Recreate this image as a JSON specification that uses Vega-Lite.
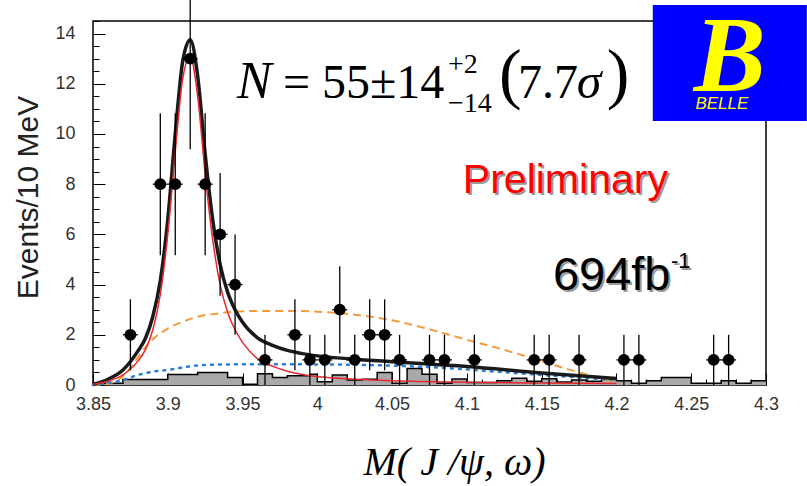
{
  "$schema": "https://vega.github.io/schema/vega-lite/v6.json",
  "width": 673,
  "height": 364,
  "autosize": {"type": "none"},
  "padding": {"left": 93, "top": 21, "right": 41, "bottom": 101},
  "background": "white",
  "config": {
    "view": {"stroke": "black", "strokeWidth": 1.5},
    "axis": {"labelFont": "Liberation Sans", "titleFont": "Liberation Sans", "domain": false, "grid": false}
  },
  "resolve": {"axis": {"x": "independent", "y": "independent"}},
  "datasets": {
    "hist": [
      {"m": 3.85, "v": 0.07}, {"m": 3.87, "v": 0.22}, {"m": 3.9, "v": 0.42}, {"m": 3.92, "v": 0.5},
      {"m": 3.94, "v": 0.3}, {"m": 3.95, "v": 0.03}, {"m": 3.96, "v": 0.45}, {"m": 3.97, "v": 0.3},
      {"m": 3.98, "v": 0.37}, {"m": 3.995, "v": 0.43}, {"m": 4.0, "v": 0.13}, {"m": 4.01, "v": 0.4},
      {"m": 4.02, "v": 0.2}, {"m": 4.03, "v": 0.23}, {"m": 4.04, "v": 0.5}, {"m": 4.05, "v": 0.07},
      {"m": 4.06, "v": 0.66}, {"m": 4.07, "v": 0.43}, {"m": 4.08, "v": 0.07}, {"m": 4.09, "v": 0.24},
      {"m": 4.1, "v": 0.1}, {"m": 4.12, "v": 0.17}, {"m": 4.13, "v": 0.27}, {"m": 4.14, "v": 0.15},
      {"m": 4.15, "v": 0.25}, {"m": 4.16, "v": 0.12}, {"m": 4.17, "v": 0.2}, {"m": 4.18, "v": 0.15},
      {"m": 4.19, "v": 0.25}, {"m": 4.2, "v": 0.17}, {"m": 4.21, "v": 0.07}, {"m": 4.22, "v": 0.17},
      {"m": 4.23, "v": 0.3}, {"m": 4.25, "v": 0.07}, {"m": 4.27, "v": 0.17}, {"m": 4.28, "v": 0.07},
      {"m": 4.29, "v": 0.17}, {"m": 4.3, "v": 0.17}
    ],
    "orange": [
      {"m": 3.85, "v": 0.0}, {"m": 3.86, "v": 0.05}, {"m": 3.865, "v": 0.15}, {"m": 3.87, "v": 0.35},
      {"m": 3.875, "v": 0.7}, {"m": 3.88, "v": 1.1}, {"m": 3.885, "v": 1.5}, {"m": 3.89, "v": 1.82},
      {"m": 3.9, "v": 2.25}, {"m": 3.91, "v": 2.52}, {"m": 3.92, "v": 2.72}, {"m": 3.935, "v": 2.86},
      {"m": 3.96, "v": 2.95}, {"m": 3.98, "v": 2.95}, {"m": 4.0, "v": 2.92}, {"m": 4.025, "v": 2.8},
      {"m": 4.05, "v": 2.58}, {"m": 4.075, "v": 2.22}, {"m": 4.1, "v": 1.8}, {"m": 4.125, "v": 1.4},
      {"m": 4.15, "v": 0.95}, {"m": 4.175, "v": 0.5}, {"m": 4.2, "v": 0.1}
    ],
    "blue": [
      {"m": 3.85, "v": 0.0}, {"m": 3.86, "v": 0.08}, {"m": 3.87, "v": 0.2}, {"m": 3.88, "v": 0.4},
      {"m": 3.89, "v": 0.53}, {"m": 3.9, "v": 0.6}, {"m": 3.91, "v": 0.7}, {"m": 3.92, "v": 0.78},
      {"m": 3.94, "v": 0.82}, {"m": 3.96, "v": 0.83}, {"m": 3.98, "v": 0.83}, {"m": 4.0, "v": 0.82},
      {"m": 4.03, "v": 0.8}, {"m": 4.06, "v": 0.75}, {"m": 4.09, "v": 0.66}, {"m": 4.12, "v": 0.53},
      {"m": 4.15, "v": 0.4}, {"m": 4.18, "v": 0.28}, {"m": 4.2, "v": 0.2}
    ],
    "total": [
      {"m": 3.85, "v": 0.03}, {"m": 3.86, "v": 0.23}, {"m": 3.87, "v": 0.6}, {"m": 3.88, "v": 1.35},
      {"m": 3.885, "v": 1.85}, {"m": 3.89, "v": 2.73}, {"m": 3.895, "v": 4.15}, {"m": 3.9, "v": 6.6},
      {"m": 3.905, "v": 10.0}, {"m": 3.91, "v": 12.9}, {"m": 3.915, "v": 13.75}, {"m": 3.92, "v": 12.3},
      {"m": 3.925, "v": 9.2}, {"m": 3.93, "v": 6.6}, {"m": 3.935, "v": 4.8}, {"m": 3.94, "v": 3.7},
      {"m": 3.945, "v": 3.0}, {"m": 3.95, "v": 2.5}, {"m": 3.96, "v": 1.88}, {"m": 3.97, "v": 1.58},
      {"m": 3.98, "v": 1.38}, {"m": 3.99, "v": 1.25}, {"m": 4.0, "v": 1.16}, {"m": 4.02, "v": 1.05},
      {"m": 4.05, "v": 0.93}, {"m": 4.1, "v": 0.74}, {"m": 4.15, "v": 0.48}, {"m": 4.2, "v": 0.26}
    ],
    "signal": [
      {"m": 3.85, "v": 0.03}, {"m": 3.86, "v": 0.15}, {"m": 3.87, "v": 0.4}, {"m": 3.88, "v": 0.95},
      {"m": 3.885, "v": 1.4}, {"m": 3.89, "v": 2.2}, {"m": 3.895, "v": 3.6}, {"m": 3.9, "v": 6.0},
      {"m": 3.905, "v": 9.3}, {"m": 3.91, "v": 12.2}, {"m": 3.915, "v": 13.1}, {"m": 3.92, "v": 11.5},
      {"m": 3.925, "v": 8.4}, {"m": 3.93, "v": 5.8}, {"m": 3.935, "v": 4.0}, {"m": 3.94, "v": 2.9},
      {"m": 3.945, "v": 2.2}, {"m": 3.95, "v": 1.7}, {"m": 3.96, "v": 1.05}, {"m": 3.97, "v": 0.75},
      {"m": 3.98, "v": 0.55}, {"m": 3.99, "v": 0.42}, {"m": 4.0, "v": 0.34}, {"m": 4.02, "v": 0.25},
      {"m": 4.05, "v": 0.17}, {"m": 4.1, "v": 0.11}, {"m": 4.15, "v": 0.08}, {"m": 4.2, "v": 0.06}
    ],
    "points": [
      {"m": 3.875, "v": 2, "lo": 0.586, "hi": 3.414},
      {"m": 3.895, "v": 8, "lo": 5.172, "hi": 10.828},
      {"m": 3.905, "v": 8, "lo": 5.172, "hi": 10.828},
      {"m": 3.915, "v": 13, "lo": 9.394, "hi": 16.606},
      {"m": 3.925, "v": 8, "lo": 5.172, "hi": 10.828},
      {"m": 3.935, "v": 6, "lo": 3.551, "hi": 8.449},
      {"m": 3.945, "v": 4, "lo": 2.0, "hi": 6.0},
      {"m": 3.965, "v": 1, "lo": 0, "hi": 2},
      {"m": 3.985, "v": 2, "lo": 0.586, "hi": 3.414},
      {"m": 3.995, "v": 1, "lo": 0, "hi": 2},
      {"m": 4.005, "v": 1, "lo": 0, "hi": 2},
      {"m": 4.015, "v": 3, "lo": 1.268, "hi": 4.732},
      {"m": 4.025, "v": 1, "lo": 0, "hi": 2},
      {"m": 4.035, "v": 2, "lo": 0.586, "hi": 3.414},
      {"m": 4.045, "v": 2, "lo": 0.586, "hi": 3.414},
      {"m": 4.055, "v": 1, "lo": 0, "hi": 2},
      {"m": 4.075, "v": 1, "lo": 0, "hi": 2},
      {"m": 4.085, "v": 1, "lo": 0, "hi": 2},
      {"m": 4.105, "v": 1, "lo": 0, "hi": 2},
      {"m": 4.145, "v": 1, "lo": 0, "hi": 2},
      {"m": 4.155, "v": 1, "lo": 0, "hi": 2},
      {"m": 4.175, "v": 1, "lo": 0, "hi": 2},
      {"m": 4.205, "v": 1, "lo": 0, "hi": 2},
      {"m": 4.215, "v": 1, "lo": 0, "hi": 2},
      {"m": 4.265, "v": 1, "lo": 0, "hi": 2},
      {"m": 4.275, "v": 1, "lo": 0, "hi": 2}
    ]
  },
  "layer": [
    {
      "data": {"name": "hist"},
      "mark": {"type": "area", "interpolate": "step-after", "color": "#a9a9a9"},
      "encoding": {
        "x": {"field": "m", "type": "quantitative",
          "scale": {"domain": [3.85, 4.3], "nice": false, "zero": false},
          "axis": {
            "orient": "bottom", "offset": -12, "tickSize": 12, "tickColor": "black", "tickWidth": 1,
            "values": [3.85, 3.9, 3.95, 4.0, 4.05, 4.1, 4.15, 4.2, 4.25, 4.3],
            "labelExpr": "format(datum.value,'~g')",
            "labelFontSize": 18, "labelColor": "#333", "labelPadding": 10, "labelFlush": false,
            "title": "M( J /ψ, ω)",
            "titleFont": "Liberation Serif", "titleFontStyle": "italic", "titleFontWeight": "normal",
            "titleFontSize": 40, "titleColor": "black",
            "titleX": 361, "titleY": 101, "titleAlign": "center", "titleBaseline": "alphabetic", "titleAngle": 0
          }
        },
        "y": {"field": "v", "type": "quantitative",
          "scale": {"domain": [0, 14.5], "nice": false},
          "axis": {
            "orient": "left", "offset": -12, "tickSize": 12, "tickColor": "black", "tickWidth": 1,
            "values": [0, 2, 4, 6, 8, 10, 12, 14],
            "labelFontSize": 18, "labelColor": "#333", "labelPadding": 18,
            "title": "Events/10 MeV",
            "titleFontSize": 30, "titleFontWeight": "normal", "titleColor": "#222",
            "titleX": -68, "titleY": 176, "titleAlign": "center", "titleBaseline": "alphabetic", "titleAngle": -90
          }
        }
      }
    },
    {
      "data": {"name": "hist"},
      "mark": {"type": "line", "interpolate": "step-after", "color": "black", "strokeWidth": 1.5},
      "encoding": {
        "x": {"field": "m", "type": "quantitative",
          "axis": {
            "orient": "bottom", "offset": -6, "tickSize": 6, "tickColor": "black", "tickWidth": 1,
            "values": [3.86,3.87,3.88,3.89,3.91,3.92,3.93,3.94,3.96,3.97,3.98,3.99,4.01,4.02,4.03,4.04,4.06,4.07,4.08,4.09,4.11,4.12,4.13,4.14,4.16,4.17,4.18,4.19,4.21,4.22,4.23,4.24,4.26,4.27,4.28,4.29],
            "labels": false, "title": null
          }
        },
        "y": {"field": "v", "type": "quantitative",
          "axis": {
            "orient": "left", "offset": -6, "tickSize": 6, "tickColor": "black", "tickWidth": 1,
            "values": [0.5,1,1.5,2.5,3,3.5,4.5,5,5.5,6.5,7,7.5,8.5,9,9.5,10.5,11,11.5,12.5,13,13.5,14.5],
            "labels": false, "title": null
          }
        }
      }
    },
    {
      "data": {"name": "orange"},
      "mark": {"type": "line", "interpolate": "monotone", "color": "#f39a3c", "strokeWidth": 2, "strokeDash": [8, 5]},
      "encoding": {"x": {"field": "m", "type": "quantitative", "axis": null}, "y": {"field": "v", "type": "quantitative", "axis": null}}
    },
    {
      "data": {"name": "blue"},
      "mark": {"type": "line", "interpolate": "monotone", "color": "#2a7fd0", "strokeWidth": 2.5, "strokeDash": [2, 6], "strokeCap": "round"},
      "encoding": {"x": {"field": "m", "type": "quantitative", "axis": null}, "y": {"field": "v", "type": "quantitative", "axis": null}}
    },
    {
      "data": {"name": "total"},
      "mark": {"type": "line", "interpolate": "monotone", "color": "#1a1a1a", "strokeWidth": 3.5},
      "encoding": {"x": {"field": "m", "type": "quantitative", "axis": null}, "y": {"field": "v", "type": "quantitative", "axis": null}}
    },
    {
      "data": {"name": "signal"},
      "mark": {"type": "line", "interpolate": "monotone", "color": "#e8262b", "strokeWidth": 1.5},
      "encoding": {"x": {"field": "m", "type": "quantitative", "axis": null}, "y": {"field": "v", "type": "quantitative", "axis": null}}
    },
    {
      "data": {"name": "points"},
      "mark": {"type": "rule", "color": "black", "strokeWidth": 1.3},
      "encoding": {
        "x": {"field": "m", "type": "quantitative", "axis": null},
        "y": {"field": "lo", "type": "quantitative", "axis": null},
        "y2": {"field": "hi"}
      }
    },
    {
      "data": {"name": "points"},
      "mark": {"type": "rule", "color": "black", "strokeWidth": 1.3, "xOffset": -7.5, "x2Offset": 7.5},
      "encoding": {
        "x": {"field": "m", "type": "quantitative", "axis": null},
        "x2": {"field": "m"},
        "y": {"field": "v", "type": "quantitative", "axis": null}
      }
    },
    {
      "data": {"name": "points"},
      "mark": {"type": "circle", "color": "black", "opacity": 1, "size": 140},
      "encoding": {"x": {"field": "m", "type": "quantitative", "axis": null}, "y": {"field": "v", "type": "quantitative", "axis": null}}
    },
    {
      "data": {"values": [{}]},
      "mark": {"type": "text", "text": "N", "font": "Liberation Serif", "fontStyle": "italic", "fontSize": 52, "align": "left", "baseline": "alphabetic", "color": "black"},
      "encoding": {"x": {"datum": 3.9463, "type": "quantitative", "axis": null}, "y": {"datum": 11.43, "type": "quantitative", "axis": null}}
    },
    {
      "data": {"values": [{}]},
      "mark": {"type": "text", "text": "= 55±14", "font": "Liberation Serif", "fontSize": 48, "align": "left", "baseline": "alphabetic", "color": "black"},
      "encoding": {"x": {"datum": 3.977, "type": "quantitative", "axis": null}, "y": {"datum": 11.43, "type": "quantitative", "axis": null}}
    },
    {
      "data": {"values": [{}]},
      "mark": {"type": "text", "text": "+2", "font": "Liberation Serif", "fontSize": 28, "align": "left", "baseline": "alphabetic", "color": "black"},
      "encoding": {"x": {"datum": 4.0873, "type": "quantitative", "axis": null}, "y": {"datum": 12.43, "type": "quantitative", "axis": null}}
    },
    {
      "data": {"values": [{}]},
      "mark": {"type": "text", "text": "−14", "font": "Liberation Serif", "fontSize": 28, "align": "left", "baseline": "alphabetic", "color": "black"},
      "encoding": {"x": {"datum": 4.0873, "type": "quantitative", "axis": null}, "y": {"datum": 10.876, "type": "quantitative", "axis": null}}
    },
    {
      "data": {"values": [{}]},
      "mark": {"type": "text", "text": "(", "font": "Liberation Serif", "fontSize": 68, "align": "left", "baseline": "alphabetic", "color": "black"},
      "encoding": {"x": {"datum": 4.1214, "type": "quantitative", "axis": null}, "y": {"datum": 11.5, "type": "quantitative", "axis": null}}
    },
    {
      "data": {"values": [{}]},
      "mark": {"type": "text", "text": "7.7", "font": "Liberation Serif", "fontSize": 48, "align": "left", "baseline": "alphabetic", "color": "black"},
      "encoding": {"x": {"datum": 4.1341, "type": "quantitative", "axis": null}, "y": {"datum": 11.43, "type": "quantitative", "axis": null}}
    },
    {
      "data": {"values": [{}]},
      "mark": {"type": "text", "text": "σ", "font": "Liberation Serif", "fontStyle": "italic", "fontSize": 50, "align": "left", "baseline": "alphabetic", "color": "black"},
      "encoding": {"x": {"datum": 4.1735, "type": "quantitative", "axis": null}, "y": {"datum": 11.43, "type": "quantitative", "axis": null}}
    },
    {
      "data": {"values": [{}]},
      "mark": {"type": "text", "text": ")", "font": "Liberation Serif", "fontSize": 68, "align": "left", "baseline": "alphabetic", "color": "black"},
      "encoding": {"x": {"datum": 4.1936, "type": "quantitative", "axis": null}, "y": {"datum": 11.5, "type": "quantitative", "axis": null}}
    },
    {
      "data": {"values": [{}]},
      "mark": {"type": "text", "text": "Preliminary", "font": "Liberation Sans", "fontSize": 41, "align": "left", "baseline": "alphabetic", "color": "#9a9a9a", "dx": 2, "dy": 2},
      "encoding": {"x": {"datum": 4.0973, "type": "quantitative", "axis": null}, "y": {"datum": 7.65, "type": "quantitative", "axis": null}}
    },
    {
      "data": {"values": [{}]},
      "mark": {"type": "text", "text": "Preliminary", "font": "Liberation Sans", "fontSize": 41, "align": "left", "baseline": "alphabetic", "color": "#ff0000"},
      "encoding": {"x": {"datum": 4.0973, "type": "quantitative", "axis": null}, "y": {"datum": 7.65, "type": "quantitative", "axis": null}}
    },
    {
      "data": {"values": [{}]},
      "mark": {"type": "text", "text": "694fb", "font": "Liberation Sans", "fontSize": 47, "align": "left", "baseline": "alphabetic", "color": "#9a9a9a", "dx": 2, "dy": 2},
      "encoding": {"x": {"datum": 4.1575, "type": "quantitative", "axis": null}, "y": {"datum": 3.785, "type": "quantitative", "axis": null}}
    },
    {
      "data": {"values": [{}]},
      "mark": {"type": "text", "text": "694fb", "font": "Liberation Sans", "fontSize": 47, "align": "left", "baseline": "alphabetic", "color": "black"},
      "encoding": {"x": {"datum": 4.1575, "type": "quantitative", "axis": null}, "y": {"datum": 3.785, "type": "quantitative", "axis": null}}
    },
    {
      "data": {"values": [{}]},
      "mark": {"type": "text", "text": "-1", "font": "Liberation Sans", "fontSize": 22, "align": "left", "baseline": "alphabetic", "color": "#9a9a9a", "dx": 2, "dy": 2},
      "encoding": {"x": {"datum": 4.2365, "type": "quantitative", "axis": null}, "y": {"datum": 4.66, "type": "quantitative", "axis": null}}
    },
    {
      "data": {"values": [{}]},
      "mark": {"type": "text", "text": "-1", "font": "Liberation Sans", "fontSize": 22, "align": "left", "baseline": "alphabetic", "color": "black"},
      "encoding": {"x": {"datum": 4.2365, "type": "quantitative", "axis": null}, "y": {"datum": 4.66, "type": "quantitative", "axis": null}}
    },
    {
      "data": {"values": [{}]},
      "mark": {"type": "rect", "color": "#0000ff", "opacity": 1},
      "encoding": {
        "x": {"datum": 4.2243, "type": "quantitative", "axis": null},
        "x2": {"datum": 4.3273},
        "y": {"datum": 15.14, "type": "quantitative", "axis": null},
        "y2": {"datum": 10.52}
      }
    },
    {
      "data": {"values": [{}]},
      "mark": {"type": "text", "text": "B", "font": "Liberation Serif", "fontStyle": "italic", "fontWeight": "bold", "fontSize": 108, "align": "center", "baseline": "middle", "color": "#ffff00"},
      "encoding": {"x": {"datum": 4.2758, "type": "quantitative", "axis": null}, "y": {"datum": 13.0, "type": "quantitative", "axis": null}}
    },
    {
      "data": {"values": [{}]},
      "mark": {"type": "text", "text": "BELLE", "font": "Liberation Sans", "fontStyle": "italic", "fontSize": 17, "align": "center", "baseline": "alphabetic", "color": "#ffff00"},
      "encoding": {"x": {"datum": 4.2705, "type": "quantitative", "axis": null}, "y": {"datum": 10.98, "type": "quantitative", "axis": null}}
    }
  ]
}
